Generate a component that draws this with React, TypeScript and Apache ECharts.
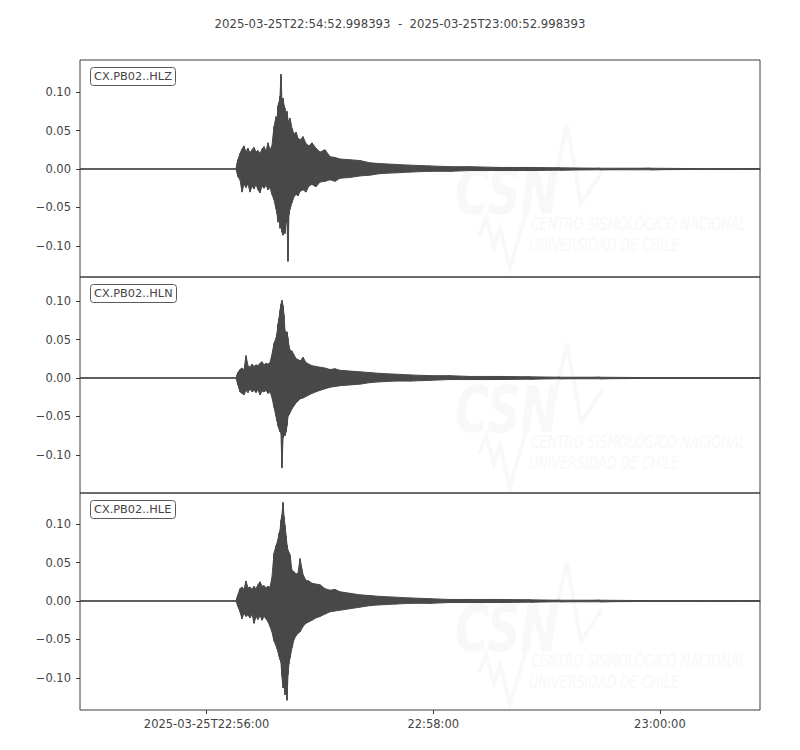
import React, { useEffect, useRef } from "react";
import * as echarts from "echarts";

// seconds after 22:54:00 (start 52.998, end 412.998)
const T_START = 52.998;
const T_END = 412.998;
const TIMES = [
  53.0, 135.6, 136.6, 137.7, 138.8, 139.8, 140.9, 141.9, 143.0, 144.1, 145.1, 146.2, 147.2, 148.3,
  149.4, 150.4, 151.5, 152.5, 153.6, 154.6, 155.7, 156.8, 157.3, 157.8, 158.4, 158.9, 159.4, 159.9,
  160.5, 161.0, 161.5, 162.1, 162.6, 163.1, 163.6, 164.2, 165.2, 166.3, 167.4, 168.4, 169.5, 171.1,
  172.6, 174.2, 175.8, 177.9, 180.1, 182.7, 185.4, 188.0, 190.6, 195.9, 201.2, 206.5, 211.8, 219.8,
  227.7, 238.3, 248.9, 259.5, 275.4, 291.2, 307.1, 328.3, 354.8, 381.2, 413.0,
];

const Z_UP = [
  0, 0, 0.012, 0.02, 0.026, 0.03, 0.022, 0.027, 0.021, 0.025, 0.028, 0.022, 0.024, 0.02,
  0.026, 0.029, 0.023, 0.034, 0.025, 0.03, 0.055, 0.068, 0.064, 0.082, 0.087, 0.095, 0.123, 0.09,
  0.092, 0.083, 0.079, 0.07, 0.075, 0.064, 0.058, 0.066, 0.053, 0.045, 0.048, 0.04, 0.038, 0.042,
  0.033, 0.03, 0.034, 0.027, 0.022, 0.025, 0.016, 0.015, 0.013, 0.012, 0.011, 0.008, 0.007, 0.006,
  0.005, 0.004, 0.003, 0.003, 0.002, 0.002, 0.0015, 0.001, 0.001, 0.0005, 0.0005,
];
const Z_LO = [
  0, 0, -0.01, -0.014, -0.03, -0.02, -0.024, -0.019, -0.03, -0.022, -0.026, -0.02, -0.027, -0.031,
  -0.022, -0.025, -0.021, -0.027, -0.024, -0.033, -0.04, -0.052, -0.058, -0.069, -0.066, -0.077, -0.074, -0.082,
  -0.086, -0.079, -0.084, -0.07, -0.066, -0.12, -0.06, -0.052, -0.044, -0.036, -0.033, -0.035, -0.029, -0.027,
  -0.03, -0.022, -0.02, -0.023, -0.017, -0.016, -0.014, -0.016, -0.012, -0.011, -0.009, -0.008, -0.006, -0.005,
  -0.004, -0.003, -0.003, -0.002, -0.002, -0.002, -0.0015, -0.001, -0.001, -0.0005, -0.0005,
];

const N_UP = [
  0, 0, 0.007, 0.011, 0.013, 0.01, 0.029, 0.016, 0.014, 0.018, 0.015, 0.017, 0.016, 0.019,
  0.021, 0.017, 0.019, 0.018, 0.02, 0.03, 0.045, 0.052, 0.058, 0.07, 0.078, 0.088, 0.096, 0.101,
  0.094, 0.082, 0.062, 0.058, 0.06, 0.052, 0.042, 0.036, 0.035, 0.03, 0.025, 0.024, 0.022, 0.027,
  0.02, 0.018, 0.016, 0.015, 0.014, 0.013, 0.011, 0.012, 0.01, 0.009, 0.008, 0.007, 0.006, 0.005,
  0.004, 0.003, 0.003, 0.002, 0.002, 0.0015, 0.001, 0.001, 0.0005, 0.0005, 0.0005,
];
const N_LO = [
  0, 0, -0.009, -0.018, -0.02, -0.022, -0.016, -0.019, -0.014, -0.018, -0.016, -0.019, -0.015, -0.022,
  -0.017, -0.018, -0.016, -0.02, -0.018, -0.025, -0.038, -0.05, -0.056, -0.062, -0.066, -0.07, -0.072, -0.117,
  -0.078, -0.074, -0.075, -0.07, -0.062, -0.05, -0.048, -0.045, -0.04, -0.036, -0.032, -0.03, -0.027, -0.026,
  -0.024, -0.022, -0.02, -0.018, -0.016, -0.014, -0.012, -0.011, -0.01, -0.009, -0.008, -0.006, -0.005, -0.004,
  -0.004, -0.003, -0.002, -0.002, -0.002, -0.0015, -0.001, -0.001, -0.0005, -0.0005, -0.0005,
];

const E_UP = [
  0, 0, 0.008, 0.016, 0.018, 0.015, 0.026, 0.017, 0.018, 0.015, 0.019, 0.016, 0.021, 0.025,
  0.019, 0.02, 0.017, 0.019, 0.018, 0.03, 0.062, 0.072, 0.075, 0.08, 0.088, 0.092, 0.105, 0.112,
  0.128, 0.11, 0.099, 0.085, 0.073, 0.066, 0.063, 0.06, 0.04, 0.038, 0.035, 0.036, 0.055, 0.034,
  0.027, 0.026, 0.023, 0.022, 0.021, 0.016, 0.014, 0.015, 0.012, 0.01, 0.008, 0.007, 0.006, 0.005,
  0.004, 0.003, 0.002, 0.002, 0.002, 0.0015, 0.001, 0.001, 0.0005, 0.0005, 0.0005,
];
const E_LO = [
  0, 0, -0.007, -0.014, -0.023, -0.016, -0.02, -0.018, -0.022, -0.017, -0.029, -0.02, -0.024, -0.019,
  -0.025, -0.02, -0.023, -0.027, -0.033, -0.04, -0.052, -0.058, -0.062, -0.066, -0.072, -0.076, -0.08, -0.098,
  -0.113, -0.108, -0.122, -0.11, -0.129, -0.096, -0.082, -0.074, -0.061, -0.05, -0.045, -0.042, -0.04, -0.033,
  -0.029, -0.027, -0.025, -0.022, -0.02, -0.017, -0.014, -0.013, -0.012, -0.01, -0.008, -0.006, -0.005, -0.004,
  -0.003, -0.003, -0.002, -0.002, -0.002, -0.0015, -0.001, -0.001, -0.0005, -0.0005, -0.0005,
];

const STATIONS = ["CX.PB02..HLZ", "CX.PB02..HLN", "CX.PB02..HLE"];
const UPPERS = [Z_UP, N_UP, E_UP];
const LOWERS = [Z_LO, N_LO, E_LO];
const Y_LIMITS = [
  [-0.1403, 0.1416],
  [-0.1494, 0.1312],
  [-0.1416, 0.1403],
];
const Y_TICKS = [-0.1, -0.05, 0, 0.05, 0.1];
const X_TICKS = [120, 240, 360];
const X_TICK_LABELS = ["2025-03-25T22:56:00", "22:58:00", "23:00:00"];
const TITLE = "2025-03-25T22:54:52.998393  -  2025-03-25T23:00:52.998393";

const WAVE = "#494949";
const TEXT = "#444444";
const FRAME = "#3d3d3d";
const FONT = "'DejaVu Sans', sans-serif";
const WM = "#f8f8f8";

const PANEL_TOPS = [60, 277, 493];
const PANEL_H = [217, 216, 217];
const WM_DY = [0, 218, 437];

function watermark(dy: number) {
  return [
    {
      type: "text",
      x: 455,
      y: 160 + dy,
      scaleX: 0.72,
      z: 0,
      silent: true,
      style: { text: "CSN", fill: WM, font: `italic bold 64px ${FONT}`, textVerticalAlign: "top" },
    },
    {
      type: "polyline",
      z: 0,
      silent: true,
      shape: { points: [[548, 207 + dy], [567, 125 + dy], [581, 204 + dy], [602, 172 + dy]] },
      style: { stroke: WM, lineWidth: 4, fill: null },
    },
    {
      type: "polyline",
      z: 0,
      silent: true,
      shape: {
        points: [
          [479, 236 + dy], [486, 218 + dy], [494, 246 + dy], [500, 228 + dy], [510, 268 + dy], [528, 206 + dy],
        ],
      },
      style: { stroke: WM, lineWidth: 4, fill: null },
    },
    {
      type: "text",
      x: 531,
      y: 215 + dy,
      scaleX: 0.7,
      z: 0,
      silent: true,
      style: { text: "CENTRO SISMOLÓGICO NACIONAL", fill: WM, font: `italic 18px ${FONT}`, textVerticalAlign: "top" },
    },
    {
      type: "text",
      x: 529,
      y: 236 + dy,
      scaleX: 0.7,
      z: 0,
      silent: true,
      style: { text: "UNIVERSIDAD DE CHILE", fill: WM, font: `italic 18px ${FONT}`, textVerticalAlign: "top" },
    },
  ];
}

function yLabel(v: number) {
  const s = Math.abs(v).toFixed(2);
  return v < -1e-9 ? "\u2212" + s : s;
}

export default function App() {
  const ref = useRef<HTMLDivElement>(null);
  useEffect(() => {
    if (!ref.current) return;
    const chart = echarts.init(ref.current, null, { renderer: "svg" });
    const grids: any[] = [];
    const xAxes: any[] = [];
    const yAxes: any[] = [];
    const series: any[] = [];
    const titles: any[] = [
      {
        text: TITLE,
        left: "center",
        top: 13,
        textStyle: { fontSize: 11.7, fontWeight: "normal", color: TEXT, fontFamily: FONT },
      },
    ];
    for (let i = 0; i < 3; i++) {
      grids.push({
        left: 80,
        top: PANEL_TOPS[i],
        width: 680,
        height: PANEL_H[i],
        show: true,
        borderColor: FRAME,
        borderWidth: 1,
        backgroundColor: "transparent",
        z: 1,
      });
      const bottom = i === 2;
      xAxes.push({
        type: "value",
        gridIndex: i,
        min: T_START,
        max: T_END,
        position: "bottom",
        axisLine: { show: false, onZero: false },
        splitLine: { show: false },
        axisTick: {
          show: bottom,
          customValues: X_TICKS,
          length: 4,
          lineStyle: { color: FRAME },
        },
        axisLabel: {
          show: bottom,
          customValues: X_TICKS,
          margin: 8,
          fontSize: 11.5,
          color: TEXT,
          fontFamily: FONT,
          formatter: (v: number) => {
            const k = X_TICKS.findIndex((t) => Math.abs(t - v) < 1e-6);
            return k >= 0 ? X_TICK_LABELS[k] : "";
          },
        },
      });
      yAxes.push({
        type: "value",
        gridIndex: i,
        min: Y_LIMITS[i][0],
        max: Y_LIMITS[i][1],
        position: "left",
        axisLine: { show: false, onZero: false },
        splitLine: { show: false },
        axisTick: {
          show: true,
          customValues: Y_TICKS,
          length: 4,
          lineStyle: { color: FRAME },
        },
        axisLabel: {
          customValues: Y_TICKS,
          margin: 9,
          fontSize: 11.5,
          color: TEXT,
          fontFamily: FONT,
          formatter: (v: number) => yLabel(v),
        },
      });
      const up = UPPERS[i];
      const lo = LOWERS[i];
      const upData = TIMES.map((t, k) => [t, up[k]]);
      const loData = TIMES.map((t, k) => [t, lo[k]]);
      const zig: number[][] = [];
      TIMES.forEach((t, k) => {
        zig.push([t, up[k]]);
        zig.push([t, lo[k]]);
      });
      const common = {
        type: "line",
        xAxisIndex: i,
        yAxisIndex: i,
        showSymbol: false,
        symbol: "none",
        silent: true,
        clip: true,
        z: 3,
      };
      series.push({
        ...common,
        name: STATIONS[i] + " upper",
        data: upData,
        lineStyle: { width: 1, color: WAVE },
        areaStyle: { color: WAVE, opacity: 1 },
      });
      series.push({
        ...common,
        name: STATIONS[i] + " lower",
        data: loData,
        lineStyle: { width: 1, color: WAVE },
        areaStyle: { color: WAVE, opacity: 1 },
      });
      series.push({
        ...common,
        name: STATIONS[i],
        data: zig,
        lineStyle: { width: 1, color: WAVE },
      });
      titles.push({
        text: STATIONS[i],
        left: 90,
        top: PANEL_TOPS[i] + 7,
        padding: [3, 4, 3, 4],
        borderColor: "#5a5a5a",
        borderWidth: 1,
        borderRadius: 3,
        backgroundColor: "#ffffff",
        z: 10,
        textStyle: { fontSize: 11.3, lineHeight: 13, fontWeight: "normal", color: TEXT, fontFamily: FONT },
      });
    }
    const graphic: any[] = [];
    WM_DY.forEach((dy) => graphic.push(...watermark(dy)));
    chart.setOption({
      animation: false,
      backgroundColor: "#ffffff",
      title: titles,
      grid: grids,
      xAxis: xAxes,
      yAxis: yAxes,
      series,
      graphic,
    });
    return () => chart.dispose();
  }, []);
  return (
    <div
      ref={ref}
      style={{ position: "fixed", left: 0, top: 0, width: 800, height: 750 }}
    />
  );
}
